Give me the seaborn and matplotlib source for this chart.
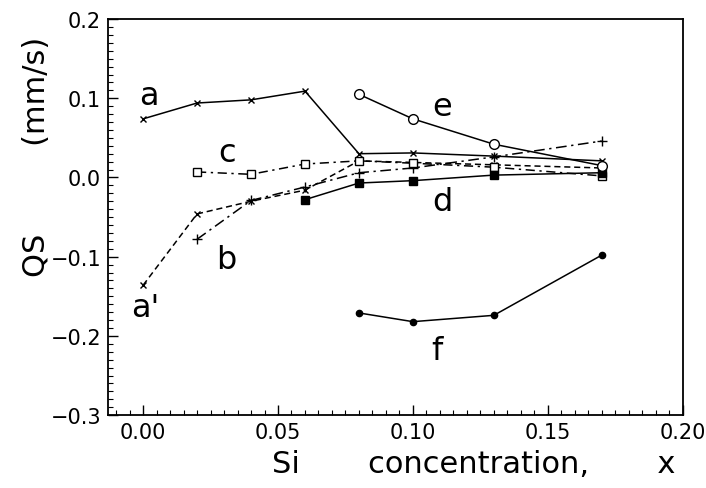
#!/usr/bin/env python3
"""Quadrupole splitting vs. Si concentration."""

import matplotlib as mpl
import matplotlib.pyplot as plt
import pandas as pd
import seaborn as sns
from matplotlib.ticker import MultipleLocator, FuncFormatter

mpl.use('Agg')

# Si concentration for each series
X_A = [0.0, 0.02, 0.04, 0.06, 0.08, 0.10, 0.13, 0.17]
X_A1 = [0.0, 0.02, 0.04, 0.06, 0.08, 0.10, 0.13, 0.17]
X_B = [0.02, 0.04, 0.06, 0.08, 0.10, 0.13, 0.17]
X_C = [0.02, 0.04, 0.06, 0.08, 0.10, 0.13, 0.17]
X_D = [0.06, 0.08, 0.10, 0.13, 0.17]
X_E = [0.08, 0.10, 0.13, 0.17]
X_F = [0.08, 0.10, 0.13, 0.17]

# QS values (mm/s)
QS_A = [0.074, 0.094, 0.098, 0.109, 0.030, 0.031, 0.027, 0.021]
QS_A1 = [-0.136, -0.046, -0.030, -0.016, 0.021, 0.019, 0.016, 0.012]
QS_B = [-0.078, -0.029, -0.012, 0.006, 0.012, 0.026, 0.046]
QS_C = [0.007, 0.004, 0.017, 0.021, 0.018, 0.013, 0.002]
QS_D = [-0.028, -0.007, -0.004, 0.003, 0.006]
QS_E = [0.105, 0.074, 0.042, 0.015]
QS_F = [-0.171, -0.182, -0.174, -0.098]

# curve labels and where they sit
LABELS = ["a", "a'", "b", "c", "d", "e", "f"]
LABEL_X = [0.002, 0.001, 0.031, 0.031, 0.111, 0.111, 0.109]
LABEL_Y = [0.103, -0.164, -0.103, 0.032, -0.030, 0.090, -0.219]


def main():
    sns.set_style("ticks")
    plt.rcParams['font.family'] = ['DejaVu Sans']
    plt.rcParams['text.color'] = 'black'
    plt.rcParams['xtick.color'] = 'black'
    plt.rcParams['ytick.color'] = 'black'
    plt.rcParams['axes.edgecolor'] = 'black'
    plt.rcParams['axes.labelcolor'] = 'black'

    series = {"a": (X_A, QS_A), "a'": (X_A1, QS_A1), "b": (X_B, QS_B),
              "c": (X_C, QS_C), "d": (X_D, QS_D), "e": (X_E, QS_E),
              "f": (X_F, QS_F)}
    df = pd.concat([pd.DataFrame({"x": x, "qs": y, "curve": k})
                    for k, (x, y) in series.items()], ignore_index=True)

    styles = {
        "a": dict(marker="x", linestyle="-", markersize=5, mfc="black"),
        "a'": dict(marker="x", linestyle=(0, (4, 2.5)), markersize=5, mfc="black"),
        "b": dict(marker="+", linestyle=(0, (7, 3, 1.5, 3)), markersize=7, mfc="black"),
        "c": dict(marker="s", linestyle=(0, (6, 3, 1.5, 3)), markersize=5.5, mfc="white"),
        "d": dict(marker="s", linestyle="-", markersize=5.5, mfc="black"),
        "e": dict(marker="o", linestyle="-", markersize=7, mfc="white"),
        "f": dict(marker="o", linestyle="-", markersize=4.5, mfc="black"),
    }

    fig = plt.figure(figsize=(7.06, 4.89), dpi=100)
    ax = fig.add_axes([0.153, 0.149, 0.814, 0.81])
    for name, st in styles.items():
        sub = df[df["curve"] == name]
        sns.lineplot(data=sub, x="x", y="qs", ax=ax, color="black",
                     linewidth=1.1, mec="black", mew=1.0, sort=False, **st)

    for lab, lx, ly in zip(LABELS, LABEL_X, LABEL_Y):
        ax.text(lx, ly, lab, fontsize=23, ha="center", va="center")

    # Axes, ticks
    ax.set_xlim(-0.013, 0.2)
    ax.set_ylim(-0.3, 0.2)
    ax.xaxis.set_major_locator(MultipleLocator(0.05))
    ax.xaxis.set_minor_locator(MultipleLocator(0.005))
    ax.yaxis.set_major_locator(MultipleLocator(0.1))
    ax.yaxis.set_minor_locator(MultipleLocator(0.01))
    ax.xaxis.set_major_formatter(FuncFormatter(lambda v, p: f"{v:.2f}".replace("-", "\u2212")))
    ax.yaxis.set_major_formatter(FuncFormatter(lambda v, p: f"{v:.1f}".replace("-", "\u2212")))
    ax.tick_params(axis="both", which="both", bottom=True, left=True,
                   top=False, right=False, direction="in", color="black")
    ax.tick_params(axis="both", which="major", length=7, width=1,
                   labelsize=15, pad=5)
    ax.tick_params(axis="both", which="minor", length=3.5, width=0.8)
    for s in ax.spines.values():
        s.set_linewidth(1.3)
        s.set_color("black")

    ax.set_xlabel("Si       concentration,       x", fontsize=22)
    ax.xaxis.set_label_coords(0.636, -0.085)
    ax.set_ylabel("QS         (mm/s)", fontsize=22)
    ax.yaxis.set_label_coords(-0.1, 0.655)

    fig.savefig("out.png", dpi=100)
    plt.close(fig)


if __name__ == '__main__':
    main()
